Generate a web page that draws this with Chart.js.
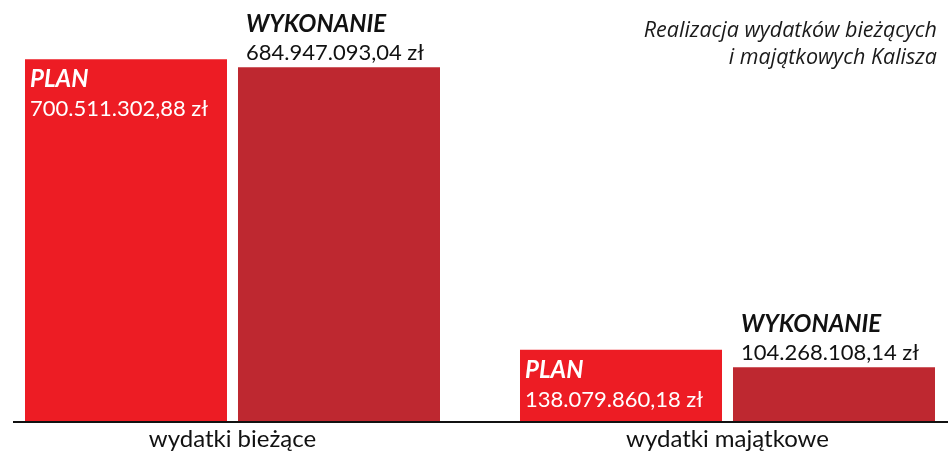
<!DOCTYPE html>
<html>
<head>
<meta charset="utf-8">
<script src="https://cdn.jsdelivr.net/npm/chart.js@4"></script>
<style>
  html, body { margin: 0; padding: 0; background: #fff; }
  #wrap { width: 948px; height: 452px; position: relative; }
</style>
</head>
<body>
<div id="wrap"><canvas id="myChart"></canvas></div>
<script>
// dane
const categories = ['wydatki bieżące', 'wydatki majątkowe'];
const planValues = [700511302.88, 138079860.18];
const wykonanieValues = [684947093.04, 104268108.14];
const seriesNames = ['PLAN', 'WYKONANIE'];
const titleLines = ['Realizacja wydatków bieżących', 'i majątkowych Kalisza'];

const FONT = 'Lato, "Noto Sans", sans-serif';

// format 700.511.302,88 zł
function formatPLN(v) {
  const parts = v.toFixed(2).split('.');
  const intPart = parts[0].replace(/\B(?=(\d{3})+(?!\d))/g, '.');
  return intPart + ',' + parts[1] + ' zł';
}

// etykiety przy słupkach + tytuł + linia osi
const labelsPlugin = {
  id: 'labelsPlugin',
  afterDatasetsDraw(chart) {
    const ctx = chart.ctx;
    const yZero = chart.scales.y.getPixelForValue(0);

    ctx.save();
    // linia osi
    ctx.strokeStyle = '#111';
    ctx.lineWidth = 2;
    ctx.beginPath();
    ctx.moveTo(13, yZero + 1);
    ctx.lineTo(chart.width, yZero + 1);
    ctx.stroke();

    ctx.textAlign = 'left';
    ctx.textBaseline = 'alphabetic';

    chart.data.datasets.forEach((ds, di) => {
      const meta = chart.getDatasetMeta(di);
      meta.data.forEach((bar, i) => {
        const left = bar.x - bar.width / 2;
        const value = ds.data[i];
        if (di === 0) {
          // PLAN - w środku słupka, biały
          ctx.fillStyle = '#fff';
          ctx.font = 'italic bold 24px ' + FONT;
          ctx.fillText(ds.label, left + 5, bar.y + 28);
          ctx.font = '22px ' + FONT;
          ctx.fillText(formatPLN(value), left + 5, bar.y + 57);
        } else {
          // WYKONANIE - nad słupkiem, czarny
          ctx.fillStyle = '#111';
          ctx.font = 'italic bold 24px ' + FONT;
          ctx.fillText(ds.label, left + 8, bar.y - 35);
          ctx.font = '22px ' + FONT;
          ctx.fillText(formatPLN(value), left + 8, bar.y - 7);
        }
      });
    });

    // tytuł w prawym górnym rogu
    ctx.fillStyle = '#1a1a1a';
    ctx.textAlign = 'right';
    ctx.font = 'italic 21.5px "Open Sans", sans-serif';
    ctx.fillText(titleLines[0], 937, 37);
    ctx.fillText(titleLines[1], 937, 64);
    ctx.restore();
  }
};

const ctx = document.getElementById('myChart').getContext('2d');
new Chart(ctx, {
  type: 'bar',
  data: {
    labels: categories,
    datasets: [{
      label: seriesNames[0],
      data: planValues,
      backgroundColor: '#ED1C24',
      categoryPercentage: 0.8606,
      barPercentage: 0.9484,
      clip: false
    }, {
      label: seriesNames[1],
      data: wykonanieValues,
      backgroundColor: '#BE2830',
      categoryPercentage: 0.8606,
      barPercentage: 0.9484,
      clip: false
    }]
  },
  options: {
    responsive: true,
    maintainAspectRatio: false,
    animation: false,
    layout: { padding: { left: 232.5, right: 220.5, top: 0, bottom: 0 } },
    plugins: {
      legend: { display: false },
      tooltip: { enabled: false },
      title: { display: false }
    },
    scales: {
      x: {
        offset: false,
        grid: { display: false, drawTicks: false },
        border: { display: false },
        ticks: {
          color: '#111',
          padding: 4,
          maxRotation: 0,
          font: { family: FONT, size: 24 }
        },
        afterFit(scale) { scale.height = 31; }
      },
      y: {
        display: false,
        min: 0,
        max: 815000000
      }
    }
  },
  plugins: [labelsPlugin]
});
</script>
</body>
</html>
